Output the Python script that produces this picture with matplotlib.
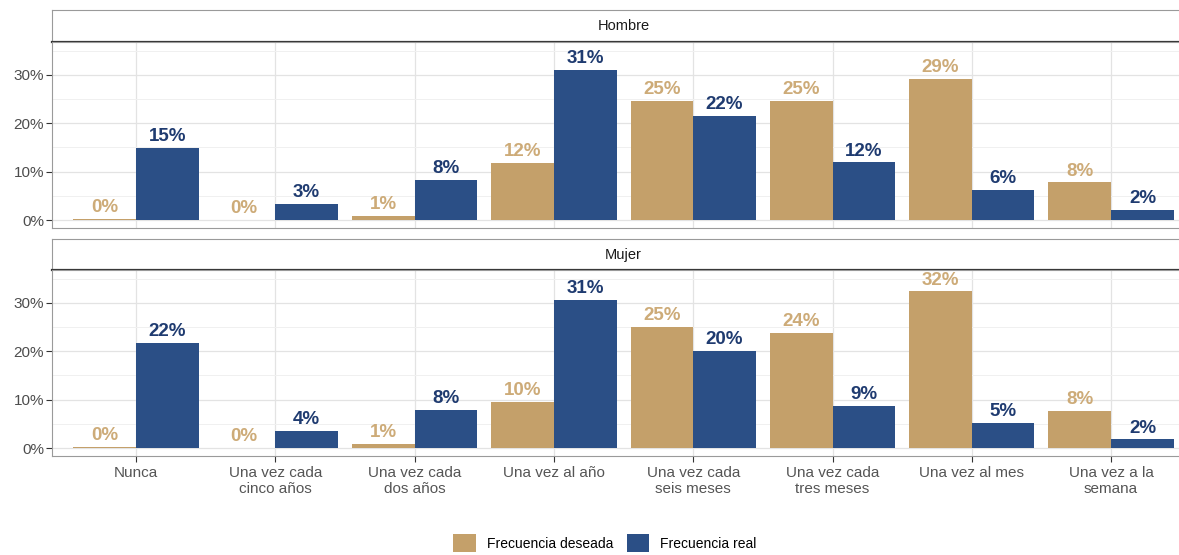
import numpy as np
import matplotlib
matplotlib.use("Agg")
import matplotlib.pyplot as plt
from matplotlib.patches import Patch

plt.rcParams['font.family'] = ['Liberation Sans', 'DejaVu Sans']

categorias = ["Nunca", "Una vez cada\ncinco años", "Una vez cada\ndos años", "Una vez al año",
              "Una vez cada\nseis meses", "Una vez cada\ntres meses", "Una vez al mes",
              "Una vez a la\nsemana"]
paneles = ["Hombre", "Mujer"]

# porcentajes
hombre_deseada = [0.2, 0.1, 0.9, 11.8, 24.6, 24.6, 29.2, 7.8]
hombre_real = [14.9, 3.3, 8.3, 31.1, 21.6, 11.9, 6.2, 2.1]
mujer_deseada = [0.2, 0.1, 0.8, 9.5, 25.1, 23.8, 32.4, 7.6]
mujer_real = [21.8, 3.6, 7.9, 30.7, 20.1, 8.7, 5.2, 1.8]

etiquetas_hombre_d = ["0%", "0%", "1%", "12%", "25%", "25%", "29%", "8%"]
etiquetas_hombre_r = ["15%", "3%", "8%", "31%", "22%", "12%", "6%", "2%"]
etiquetas_mujer_d = ["0%", "0%", "1%", "10%", "25%", "24%", "32%", "8%"]
etiquetas_mujer_r = ["22%", "4%", "8%", "31%", "20%", "9%", "5%", "2%"]

datos = [
    (hombre_deseada, hombre_real, etiquetas_hombre_d, etiquetas_hombre_r),
    (mujer_deseada, mujer_real, etiquetas_mujer_d, etiquetas_mujer_r),
]

col_deseada = "#C4A06A"
col_real = "#2B4F86"
col_txt_deseada = "#CDAB78"
col_txt_real = "#1F3B70"

W, H = 1179, 555
fig = plt.figure(figsize=(W / 100, H / 100), dpi=100)


def caja(x0, y0, x1, y1):
    # pixeles (desde arriba) -> fracción de figura
    return [x0 / W, 1 - y1 / H, (x1 - x0) / W, (y1 - y0) / H]


x_izq, x_der = 52.4, 1194.7
filas = [(10, 42, 228), (239, 270, 456)]
x = np.arange(len(categorias))
ancho = 0.45

for i, (panel, (dese, real, et_d, et_r)) in enumerate(zip(paneles, datos)):
    s_top, p_top, p_bot = filas[i]
    # tira del facet
    st = fig.add_axes(caja(x_izq, s_top, x_der, p_top))
    st.set_xticks([])
    st.set_yticks([])
    for lado in st.spines.values():
        lado.set_color("#9a9a9a")
        lado.set_linewidth(0.8)
    st.spines["bottom"].set_color("#333333")
    st.spines["bottom"].set_linewidth(1.6)
    st.text(0.5, 0.5, panel, ha="center", va="center", fontsize=10.5, color="#1a1a1a",
            transform=st.transAxes)

    ax = fig.add_axes(caja(x_izq, p_top, x_der, p_bot))
    ax.set_xlim(-0.6, 7.6)
    ax.set_ylim(-1.65, 36.8)
    ax.set_yticks([0, 10, 20, 30])
    ax.set_yticks([5, 15, 25, 35], minor=True)
    ax.set_yticklabels(["0%", "10%", "20%", "30%"])
    ax.set_xticks(x)
    ax.grid(True, which="major", color="#e3e3e3", linewidth=0.9)
    ax.grid(True, which="minor", axis="y", color="#f0f0f0", linewidth=0.7)
    ax.set_axisbelow(True)
    for lado in ax.spines.values():
        lado.set_color("#9a9a9a")
        lado.set_linewidth(0.8)
    ax.tick_params(axis="y", which="major", labelsize=11, labelcolor="#4d4d4d",
                   color="#333333", length=4, width=0.8, pad=2)
    ax.tick_params(axis="y", which="minor", length=0)
    if i == 0:
        ax.tick_params(axis="x", length=0)
        ax.set_xticklabels([])
    else:
        ax.tick_params(axis="x", color="#333333", length=4, width=0.8, pad=3)
        ax.set_xticklabels(categorias, fontsize=11, color="#555555", linespacing=1.2)

    ax.bar(x - ancho / 2, dese, width=ancho, color=col_deseada)
    ax.bar(x + ancho / 2, real, width=ancho, color=col_real)

    for xi, v, t in zip(x, dese, et_d):
        ax.annotate(t, (xi - ancho / 2, v), xytext=(0, 2), textcoords="offset points",
                    ha="center", va="bottom", fontsize=13.5, fontweight="bold",
                    color=col_txt_deseada, annotation_clip=False)
    for xi, v, t in zip(x, real, et_r):
        ax.annotate(t, (xi + ancho / 2, v), xytext=(0, 2), textcoords="offset points",
                    ha="center", va="bottom", fontsize=13.5, fontweight="bold",
                    color=col_txt_real, annotation_clip=False)

leyenda = [Patch(facecolor=col_deseada, label="Frecuencia deseada"),
           Patch(facecolor=col_real, label="Frecuencia real")]
fig.legend(handles=leyenda, loc="center", bbox_to_anchor=(605 / W, 1 - 543 / H), ncol=2,
           frameon=False, fontsize=10, handlelength=1.6, handleheight=1.6,
           columnspacing=1.0, handletextpad=0.8)

fig.savefig("out.png", dpi=100)
